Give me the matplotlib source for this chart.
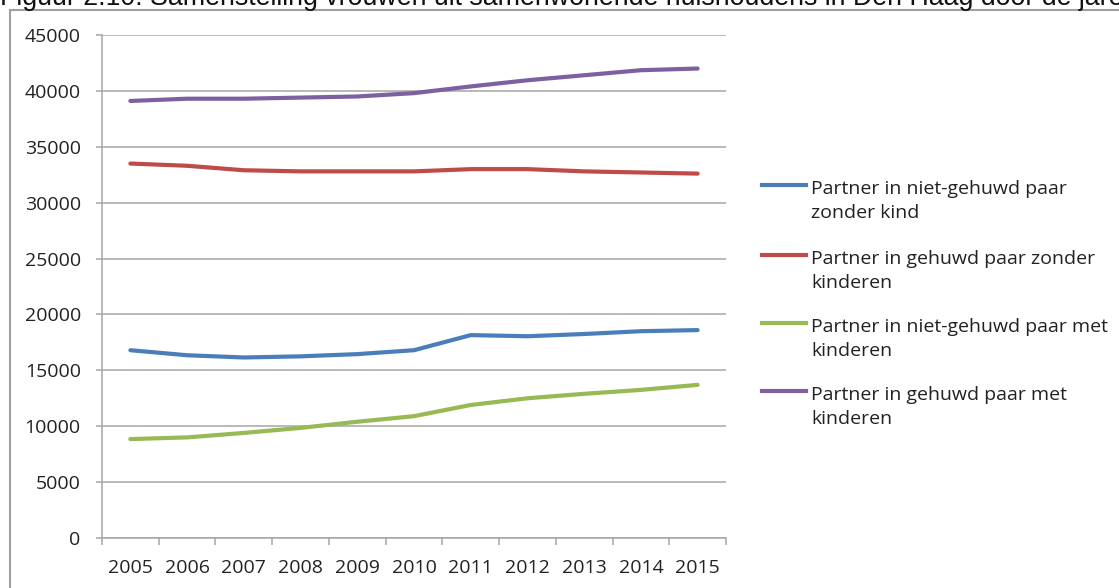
import matplotlib
matplotlib.use("Agg")
import numpy as np
import matplotlib.pyplot as plt
import matplotlib.ticker as ticker
from matplotlib.lines import Line2D
from matplotlib.patches import Rectangle

years = ["2005", "2006", "2007", "2008", "2009", "2010",
         "2011", "2012", "2013", "2014", "2015"]

niet_gehuwd_zonder = [16800, 16350, 16150, 16250, 16450, 16800,
                      18150, 18050, 18250, 18500, 18600]
gehuwd_zonder = [33500, 33300, 32900, 32800, 32800, 32800,
                 33000, 33000, 32800, 32700, 32600]
niet_gehuwd_met = [8850, 9000, 9400, 9850, 10400, 10900,
                   11900, 12500, 12900, 13250, 13700]
gehuwd_met = [39100, 39300, 39300, 39400, 39500, 39800,
              40400, 40950, 41400, 41850, 42000]

labels = ["Partner in niet-gehuwd paar\nzonder kind",
          "Partner in gehuwd paar zonder\nkinderen",
          "Partner in niet-gehuwd paar met\nkinderen",
          "Partner in gehuwd paar met\nkinderen"]
colors = ["#4a7ebb", "#be4b48", "#98b954", "#7d60a0"]
series = [niet_gehuwd_zonder, gehuwd_zonder, niet_gehuwd_met, gehuwd_met]

title = ("Figuur 2.10: Samenstelling vrouwen uit samenwonende huishoudens "
         "in Den Haag door de jaren")

W, H = 1119, 588
fig = plt.figure(figsize=(W / 100, H / 100), dpi=100)
ax = fig.add_axes([102 / W, 1 - 538 / H, 624 / W, 503 / H])

font = "Open Sans"
grid_c = "#a6a6a6"

xs = np.arange(len(years))
for ys, c in zip(series, colors):
    ax.plot(xs, ys, color=c, lw=3.0, solid_capstyle="round", zorder=3)

ax.set_xlim(-0.5, len(years) - 0.5)
ax.set_ylim(0, 45000)
ax.yaxis.set_major_locator(ticker.MultipleLocator(5000))
ax.yaxis.grid(True, color=grid_c, lw=1.1)
ax.set_axisbelow(True)

ax.set_xticks(xs)
ax.set_xticklabels(years)
ax.set_xticks(np.arange(-0.5, len(years)), minor=True)
ax.tick_params(axis="x", which="major", length=0, pad=15)
ax.tick_params(axis="x", which="minor", length=5, width=1.1, color=grid_c,
               direction="out")
ax.tick_params(axis="y", length=4.3, width=1.1, color=grid_c, pad=11)
for lab in ax.get_xticklabels() + ax.get_yticklabels():
    lab.set_fontfamily(font)
    lab.set_fontsize(14)
    lab.set_color("#222222")

for s in ["top", "right"]:
    ax.spines[s].set_visible(False)
for s in ["left", "bottom"]:
    ax.spines[s].set_color(grid_c)
    ax.spines[s].set_linewidth(1.1)

# legend drawn by hand so the key lines sit on the first text line
legend_y = [185, 255, 323, 391]
for lab, c, y in zip(labels, colors, legend_y):
    fig.add_artist(Line2D([762 / W, 806 / W], [1 - y / H, 1 - y / H],
                          color=c, lw=3.0, transform=fig.transFigure))
    fig.text(811 / W, 1 - (y - 5) / H, lab, fontfamily=font, fontsize=14,
             color="#222222", va="top", ha="left", linespacing=1.45)

# chart frame and cut-off caption
fig.add_artist(Rectangle((10 / W, -0.1), 1.2, 1 - 10 / H + 0.1,
                         transform=fig.transFigure, fill=False,
                         edgecolor="#a0a0a0", lw=1.5))
fig.text(0, 1 - 5 / H, title, fontfamily="Liberation Sans", fontsize=19.3,
         va="baseline", ha="left", color="#111111")

fig.savefig("out.png", dpi=100)
